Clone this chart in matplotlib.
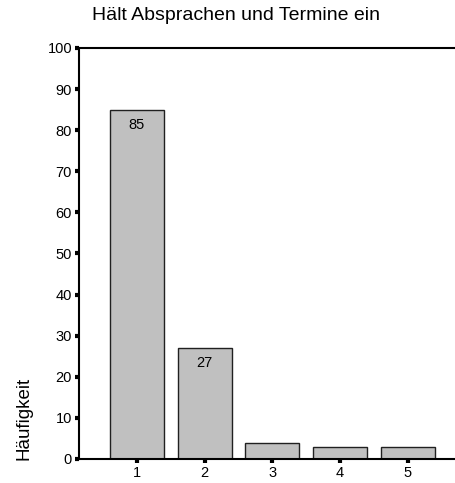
import matplotlib
matplotlib.use("Agg")
import matplotlib.pyplot as plt

plt.rcParams['font.family'] = ['Liberation Sans', 'DejaVu Sans']

# Werte
categories = [1, 2, 3, 4, 5]
counts = [85, 27, 4, 3, 3]
shown_labels = {0: "85", 1: "27"}

fig = plt.figure(figsize=(4.56, 4.83), dpi=100)
ax = fig.add_axes([79/456, 24/483, 376/456, 411/483])

bars = ax.bar(categories, counts, width=0.8, color='#c0c0c0',
              edgecolor='#202020', linewidth=1.0)

for i, txt in shown_labels.items():
    ax.annotate(txt, (categories[i], counts[i]), xytext=(0, -11),
                textcoords='offset points', ha='center', va='center',
                fontsize=10.5)

ax.set_xlim(0.143, 5.70)
ax.set_ylim(0, 100)
ax.set_yticks(range(0, 101, 10))
ax.set_xticks(categories)

ax.spines['right'].set_visible(False)
for s in ['left', 'top', 'bottom']:
    ax.spines[s].set_linewidth(1.5)
    ax.spines[s].set_color('black')

ax.tick_params(axis='both', direction='out', length=3, width=3,
               labelsize=10.5, pad=2)

fig.text(236/456, 1 - 16/483, "Hält Absprachen und Termine ein",
         ha='center', va='center', fontsize=14)
fig.text(24/456, 1 - 460/483, "Häufigkeit", rotation=90,
         ha='center', va='bottom', fontsize=13.5)

fig.savefig("out.png", dpi=100)
